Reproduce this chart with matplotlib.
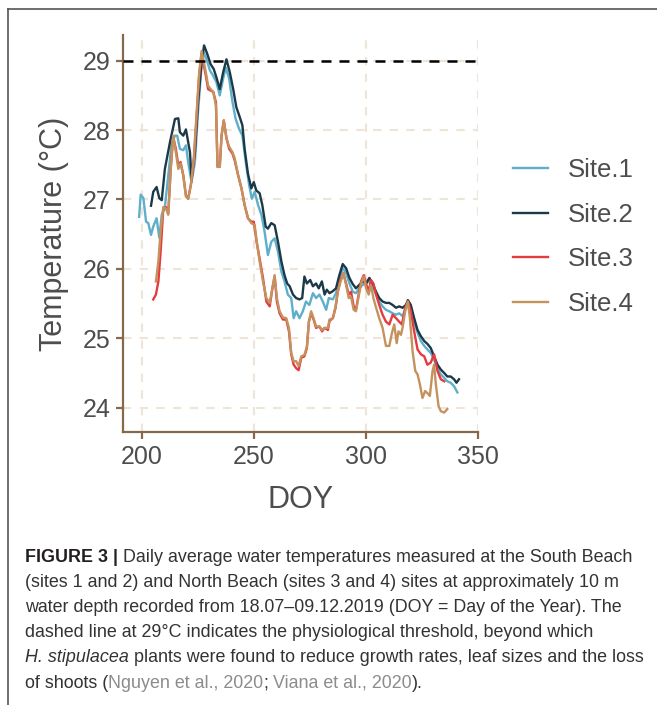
import matplotlib
matplotlib.use('Agg')
import matplotlib.pyplot as plt
from matplotlib.lines import Line2D

plt.rcParams['font.family'] = ['Liberation Sans', 'DejaVu Sans']

# daily mean water temperature (°C) per logger site, by day of year
site1_doy = [198.7, 199.4, 200.6, 201.8, 202.8, 204.0, 205.0, 206.5, 207.7, 208.8, 210.2, 211.7, 213.2, 214.7, 215.7,
             216.9, 218.4, 219.6, 220.6, 222.1, 223.6, 225.0, 226.6, 227.6, 228.8, 230.3, 231.8, 233.2, 234.7, 236.2,
             237.4, 238.9, 240.4, 241.8, 243.3, 244.8, 246.3, 247.8, 249.0, 250.3, 251.8, 253.3, 254.7, 256.2, 257.7,
             259.2, 260.7, 262.2, 263.6, 265.1, 266.6, 267.7, 268.8, 270.3, 271.8, 273.2, 274.7, 276.3, 277.7, 279.2,
             280.7, 282.2, 283.4, 285.2, 286.6, 288.1, 289.6, 291.1, 292.6, 294.1, 295.5, 297.0, 298.5, 300.0, 301.5,
             302.9, 304.5, 305.9, 307.4, 308.9, 310.4, 311.9, 313.4, 314.8, 316.3, 317.8, 318.7, 320.0, 321.5, 323.0,
             324.5, 326.0, 327.4, 328.9, 330.4, 331.9, 333.4, 334.9, 336.3, 337.8, 339.3, 340.8]
site1_temp = [26.75, 27.07, 27.02, 26.68, 26.66, 26.49, 26.61, 26.73, 26.45, 26.78, 26.89, 27.35, 27.80, 27.92, 27.92,
              27.73, 27.71, 27.78, 27.54, 27.25, 27.54, 28.26, 28.93, 29.12, 29.02, 28.86, 28.78, 28.69, 28.50, 28.74,
              28.90, 28.74, 28.40, 28.16, 28.02, 27.92, 27.54, 27.21, 27.01, 27.11, 26.92, 26.78, 26.54, 26.20, 26.39,
              26.44, 26.25, 25.96, 25.82, 25.63, 25.58, 25.29, 25.39, 25.29, 25.39, 25.53, 25.48, 25.65, 25.58, 25.63,
              25.53, 25.41, 25.58, 25.56, 25.65, 25.84, 26.01, 25.94, 25.79, 25.67, 25.65, 25.72, 25.77, 25.79, 25.82,
              25.75, 25.63, 25.53, 25.46, 25.41, 25.39, 25.36, 25.34, 25.36, 25.32, 25.44, 25.53, 25.44, 25.24, 25.08,
              24.96, 24.89, 24.84, 24.79, 24.69, 24.57, 24.48, 24.43, 24.38, 24.36, 24.31, 24.22]

site2_doy = [204.0, 205.0, 206.5, 207.7, 208.8, 210.2, 212.5, 214.7, 216.2, 216.9, 218.4, 219.6, 221.4, 222.1, 223.6,
             225.0, 226.6, 227.7, 229.1, 230.6, 232.0, 233.2, 234.7, 236.2, 237.7, 239.2, 240.7, 242.1, 243.6, 244.8,
             245.8, 247.3, 248.8, 249.9, 251.0, 252.5, 253.7, 255.2, 256.2, 257.7, 259.2, 260.7, 262.2, 263.6, 264.8,
             265.9, 267.4, 268.8, 270.3, 271.5, 272.5, 273.6, 275.1, 276.3, 277.7, 278.9, 280.3, 281.5, 282.5, 283.7,
             285.2, 286.6, 288.1, 289.6, 291.1, 292.6, 294.1, 295.5, 297.0, 298.5, 300.0, 301.5, 302.9, 304.5, 305.9,
             307.4, 308.9, 310.4, 311.9, 313.4, 314.8, 316.3, 317.8, 318.7, 320.0, 321.5, 323.0, 324.5, 326.0, 327.4,
             328.9, 330.4, 331.9, 333.4, 334.9, 336.3, 337.8, 339.3, 340.4, 341.5]
site2_temp = [26.91, 27.11, 27.18, 27.02, 26.99, 27.44, 27.83, 28.16, 28.17, 27.97, 27.92, 28.01, 27.68, 27.30, 27.68,
              28.40, 28.98, 29.22, 29.10, 28.95, 28.88, 28.76, 28.59, 28.83, 29.02, 28.83, 28.59, 28.33, 28.19, 28.07,
              27.73, 27.37, 27.16, 27.25, 27.13, 27.09, 26.92, 26.61, 26.58, 26.66, 26.63, 26.39, 26.11, 25.91, 25.79,
              25.75, 25.63, 25.58, 25.56, 25.58, 25.89, 25.79, 25.84, 25.75, 25.79, 25.72, 25.82, 25.63, 25.70, 25.65,
              25.68, 25.72, 25.91, 26.07, 26.01, 25.87, 25.78, 25.72, 25.77, 25.82, 25.79, 25.87, 25.79, 25.67, 25.58,
              25.53, 25.51, 25.51, 25.48, 25.44, 25.46, 25.44, 25.48, 25.55, 25.48, 25.29, 25.12, 25.03, 24.96, 24.92,
              24.86, 24.74, 24.62, 24.55, 24.50, 24.45, 24.45, 24.41, 24.36, 24.41]

site3_doy = [205.0, 206.2, 207.3, 208.3, 209.5, 210.7, 211.7, 212.8, 213.9, 215.1, 216.2, 217.2, 218.4, 219.6, 220.6,
             221.8, 223.1, 224.3, 225.5, 226.6, 227.6, 228.5, 229.5, 230.6, 231.8, 233.0, 233.7, 234.7, 235.5, 236.5,
             237.7, 238.9, 240.4, 241.4, 242.9, 244.4, 245.8, 247.3, 248.8, 249.9, 251.0, 252.5, 254.0, 255.5, 257.0,
             258.2, 259.2, 260.2, 261.4, 262.9, 264.4, 265.6, 266.6, 267.7, 268.8, 269.9, 271.1, 272.5, 273.6, 274.5,
             275.5, 276.6, 277.7, 279.2, 280.4, 281.5, 283.0, 283.7, 285.2, 286.4, 287.4, 288.4, 289.9, 291.1, 292.3,
             293.3, 294.5, 295.5, 296.7, 297.8, 299.0, 300.0, 301.2, 302.2, 303.3, 304.5, 305.9, 307.4, 308.9, 310.4,
             311.9, 313.4, 314.8, 316.0, 317.5, 318.7, 320.0, 321.5, 323.0, 324.5, 326.0, 327.4, 328.9, 330.4, 331.9,
             333.4, 334.9]
site3_temp = [25.56, 25.63, 25.82, 26.25, 26.87, 26.89, 26.80, 27.44, 27.90, 27.73, 27.49, 27.54, 27.35, 27.06, 27.01,
              27.21, 27.54, 28.16, 28.78, 29.10, 28.93, 28.78, 28.59, 28.57, 28.55, 28.40, 27.47, 27.47, 27.92, 28.14,
              27.88, 27.73, 27.66, 27.56, 27.35, 27.16, 26.92, 26.73, 26.68, 26.68, 26.42, 26.15, 25.87, 25.53, 25.46,
              25.72, 25.89, 25.53, 25.36, 25.27, 25.27, 25.10, 24.77, 24.62, 24.57, 24.54, 24.72, 24.74, 24.86, 25.24,
              25.36, 25.27, 25.15, 25.17, 25.10, 25.15, 25.12, 25.25, 25.29, 25.44, 25.67, 25.82, 25.94, 25.79, 25.63,
              25.67, 25.46, 25.41, 25.63, 25.82, 25.91, 25.79, 25.67, 25.84, 25.79, 25.63, 25.48, 25.34, 25.24, 25.20,
              25.34, 25.29, 25.24, 25.20, 25.44, 25.53, 25.39, 25.10, 24.84, 24.77, 24.74, 24.62, 24.65, 24.77, 24.53,
              24.41, 24.38]

site4_doy = [206.2, 207.3, 208.3, 209.5, 210.7, 211.7, 212.8, 213.9, 215.1, 216.2, 217.2, 218.4, 219.6, 220.6, 221.8,
             223.1, 224.3, 225.5, 226.6, 227.6, 228.5, 229.5, 230.6, 231.8, 233.0, 233.7, 234.7, 235.5, 236.5, 237.7,
             238.9, 240.4, 241.4, 242.9, 244.4, 245.8, 247.3, 248.8, 250.3, 251.3, 252.5, 254.0, 255.5, 257.0, 258.2,
             259.2, 260.2, 261.4, 262.9, 264.4, 265.6, 266.6, 267.7, 268.8, 269.9, 271.1, 272.5, 273.6, 274.5, 275.5,
             276.6, 277.7, 279.2, 280.4, 281.5, 283.0, 283.7, 285.2, 286.4, 287.4, 288.4, 289.9, 291.1, 292.3, 293.3,
             294.5, 295.5, 296.7, 297.8, 299.0, 300.0, 301.2, 302.2, 303.3, 304.5, 305.9, 307.4, 308.9, 310.4, 311.6,
             312.6, 313.7, 314.5, 315.6, 316.3, 317.5, 318.7, 319.6, 320.8, 322.0, 323.0, 324.1, 325.2, 326.4, 327.4,
             328.5, 329.7, 330.4, 331.2, 332.4, 333.4, 334.9, 336.3]
site4_temp = [25.82, 26.11, 26.54, 26.89, 26.87, 26.78, 27.44, 27.92, 27.68, 27.44, 27.52, 27.35, 27.04, 27.01, 27.21,
              27.59, 28.21, 28.83, 29.14, 28.98, 28.83, 28.64, 28.59, 28.55, 28.35, 27.47, 27.47, 27.92, 28.14, 27.88,
              27.76, 27.68, 27.59, 27.35, 27.16, 26.92, 26.73, 26.66, 26.63, 26.37, 26.11, 25.82, 25.58, 25.51, 25.72,
              25.91, 25.58, 25.39, 25.30, 25.29, 25.15, 24.79, 24.67, 24.67, 24.60, 24.74, 24.76, 24.88, 25.24, 25.39,
              25.29, 25.17, 25.17, 25.12, 25.15, 25.15, 25.27, 25.29, 25.46, 25.67, 25.79, 25.94, 25.77, 25.58, 25.60,
              25.41, 25.39, 25.60, 25.79, 25.89, 25.72, 25.63, 25.77, 25.58, 25.44, 25.29, 25.15, 24.89, 24.89, 25.08,
              25.20, 24.93, 25.10, 25.05, 25.15, 25.39, 25.53, 25.29, 24.81, 24.53, 24.48, 24.33, 24.14, 24.24, 24.21,
              24.17, 24.53, 24.62, 24.33, 24.02, 23.95, 23.93, 23.98]

site_labels = ['Site.1', 'Site.2', 'Site.3', 'Site.4']
site_colors = ['#5FAFCB', '#1B3947', '#E63A3F', '#C4925E']
threshold = 29
x_ticks = [200, 250, 300, 350]
y_ticks = [24, 25, 26, 27, 28, 29]

W, H = 657, 705
fig = plt.figure(figsize=(W / 100, H / 100), dpi=100)
ax = fig.add_axes([123 / W, 1 - 432 / H, (478 - 123) / W, (432 - 35) / H])

brown = '#86694A'
text_grey = '#4D4D4D'

series = [(site1_doy, site1_temp), (site2_doy, site2_temp), (site3_doy, site3_temp), (site4_doy, site4_temp)]
for (doy, temp), label, color in zip(series, site_labels, site_colors):
    ax.plot(doy, temp, color=color, lw=1.7, label=label, solid_joinstyle='round', zorder=3)

ax.axhline(threshold, color='black', lw=1.8, ls=(0, (4, 3.2)), zorder=4)

ax.set_xlim(191.5, 350)
ax.set_ylim(23.65, 29.37)
ax.set_xticks(x_ticks)
ax.set_yticks(y_ticks)
ax.grid(True, color='#EFE4D8', lw=1.5, ls=(0, (4, 4)))
ax.set_axisbelow(True)

for side in ['top', 'right']:
    ax.spines[side].set_visible(False)
for side in ['left', 'bottom']:
    ax.spines[side].set_color(brown)
    ax.spines[side].set_linewidth(1.6)
ax.tick_params(color=brown, length=5, width=1.6, labelcolor=text_grey, labelsize=18, pad=4)

ax.set_xlabel('DOY', fontsize=22, color=text_grey, labelpad=12)
ax.set_ylabel('Temperature (°C)', fontsize=22, color=text_grey, labelpad=10)

ax.legend(loc='center left', bbox_to_anchor=(513 / W, 1 - 237 / H), bbox_transform=fig.transFigure,
          frameon=False, fontsize=18.5, handlelength=1.35, handletextpad=0.8, labelspacing=0.81,
          borderpad=0, borderaxespad=0, labelcolor=text_grey)

# frame around the figure panel
fig.add_artist(Line2D([8 / W, 8 / W], [0, 1 - 9 / H], transform=fig.transFigure, color='#555555', lw=1.2))
fig.add_artist(Line2D([8 / W, 1], [1 - 9 / H, 1 - 9 / H], transform=fig.transFigure, color='#555555', lw=1.2))

# caption, written run by run so styles can change mid-line
renderer = fig.canvas.get_renderer()
cap_size = 12.9
body = dict(color='#333333')
bold = dict(color='#231F20', weight='bold')
ital = dict(color='#333333', style='italic')
cite = dict(color='#8C8C8C')

caption = [
    [('FIGURE 3 |', bold), (' Daily average water temperatures measured at the South Beach', body)],
    [('(sites 1 and 2) and North Beach (sites 3 and 4) sites at approximately 10 m', body)],
    [('water depth recorded from 18.07–09.12.2019 (DOY = Day of the Year). The', body)],
    [('dashed line at 29°C indicates the physiological threshold, beyond which', body)],
    [('H. stipulacea', ital), (' plants were found to reduce growth rates, leaf sizes and the loss', body)],
    [('of shoots (', body), ('Nguyen et al., 2020', cite), (';', body), (' Viana et al., 2020', cite), (').', body)],
]

for i, runs in enumerate(caption):
    x = 25
    y = 562 + 25.1 * i
    for text, style in runs:
        t = fig.text(x / W, 1 - y / H, text, fontsize=cap_size, va='baseline', ha='left', **style)
        x = t.get_window_extent(renderer).x1

fig.savefig('out.png', dpi=100)
